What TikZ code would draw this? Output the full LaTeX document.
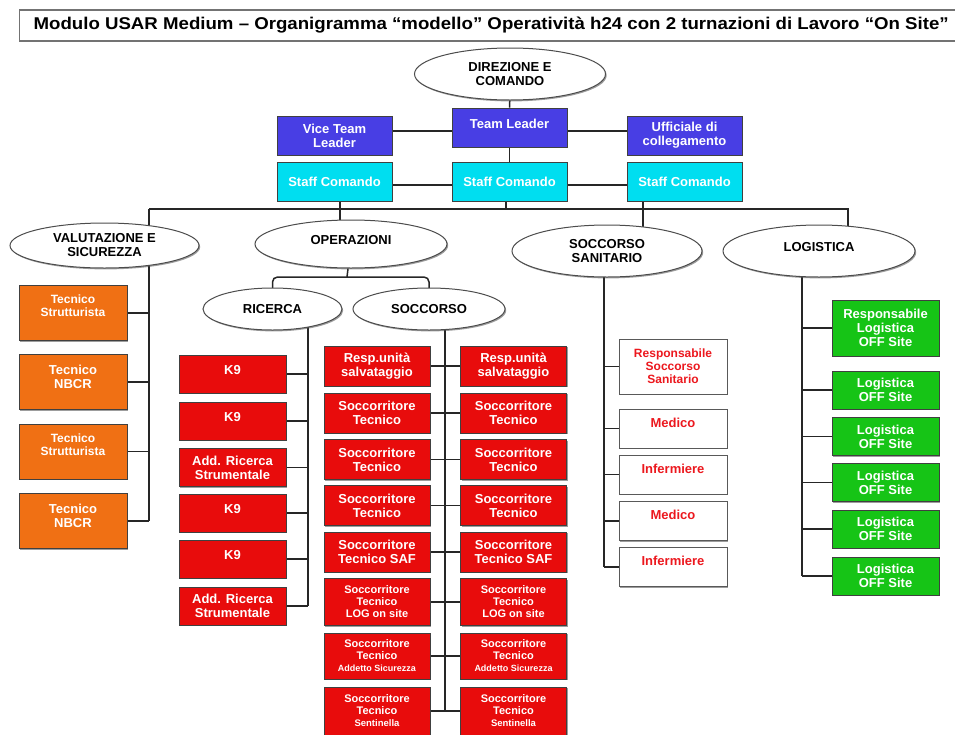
\documentclass[tikz,border=0pt]{standalone}
\usepackage{fontspec}
\usepackage{graphicx}
\setmainfont{Liberation Sans}
\usetikzlibrary{shapes.geometric,shadows,backgrounds}

\definecolor{cmdblue}{RGB}{72,62,228}
\definecolor{staffcyan}{RGB}{0,222,240}
\definecolor{valorange}{RGB}{240,112,20}
\definecolor{opsred}{RGB}{232,12,12}
\definecolor{loggreen}{RGB}{22,196,22}
\definecolor{txtred}{RGB}{236,24,30}

\begin{document}
\begin{tikzpicture}[x=1pt,y=-1pt,
  lbl/.style={font=\bfseries\fontsize{13}{14}\selectfont, align=center},
  mid/.style={font=\bfseries\fontsize{12}{13}\selectfont},
  sm/.style={font=\bfseries\fontsize{11}{12}\selectfont},
  shade/.style={drop shadow={shadow xshift=1.2pt,shadow yshift=-1.4pt,fill=black!70,opacity=0.55}},
  ell/.style={ellipse, draw=black!70, line width=1pt, fill=white, lbl, inner sep=0pt, shade},
  card/.style={rectangle, draw=black!75, line width=0.8pt, lbl, text=white,
               minimum width=107pt, minimum height=39pt, inner sep=1pt, shade},
  cmdcard/.style={card, fill=cmdblue, minimum width=115pt},
  staffcard/.style={card, fill=staffcyan, minimum width=115pt},
  valcard/.style={card, fill=valorange, minimum width=108pt, minimum height=55pt},
  opscard/.style={card, fill=opsred},
  sancard/.style={card, fill=white, text=txtred, draw=black!65, minimum width=108pt},
  logcard/.style={card, fill=loggreen},
  conn/.style={draw=black!85, line width=1.5pt}
]
\useasboundingbox (0,0) rectangle (955,734);

% ---------- title ----------
\node[draw=black!55, line width=1.2pt, fill=white, anchor=west, minimum height=31pt,
      inner xsep=14pt, inner ysep=0pt, shade] (title) at (19,25.5)
  {\resizebox{915pt}{12.5pt}{\bfseries Modulo USAR Medium – Organigramma “modello” Operatività h24 con 2 turnazioni di Lavoro “On Site”}};

% ---------- command ----------
\node[ell, minimum width=191pt, minimum height=52pt] (dir) at (510,74) {DIREZIONE E\\COMANDO};
\node[cmdcard] (tl)  at (509.5,127.5) {Team Leader\\[-6pt]};
\node[cmdcard] (vtl) at (334.5,135.5) {Vice Team\\Leader};
\node[cmdcard] (uff) at (684.5,135.5) {Ufficiale di\\collegamento};
\node[staffcard] (sc1) at (334.5,181.5) {Staff Comando};
\node[staffcard] (sc2) at (509.5,181.5) {Staff Comando};
\node[staffcard] (sc3) at (684.5,181.5) {Staff Comando};

% ---------- branches ----------
\node[ell, minimum width=189pt, minimum height=45pt] (val)  at (104.5,245.5) {VALUTAZIONE E\\SICUREZZA};
\node[ell, minimum width=192pt, minimum height=48pt] (ops)  at (351,244) {OPERAZIONI\\[-6pt]};
\node[ell, minimum width=190pt, minimum height=52pt] (san)  at (607,251) {SOCCORSO\\SANITARIO};
\node[ell, minimum width=192pt, minimum height=52pt] (log)  at (819,251) {LOGISTICA\\[-6pt]};
\node[ell, minimum width=139pt, minimum height=42pt] (ric)  at (272.5,309) {RICERCA};
\node[ell, minimum width=152pt, minimum height=42pt] (socc) at (429,309) {SOCCORSO};

% ---------- valutazione e sicurezza ----------
\node[valcard, mid] (or1) at (73,313)   {Tecnico\\Strutturista\\[1pt]};
\node[valcard]      (or2) at (73,382)   {Tecnico\\NBCR\\[-4pt]};
\node[valcard, mid] (or3) at (73,451.5) {Tecnico\\Strutturista\\[1pt]};
\node[valcard]      (or4) at (73,521)   {Tecnico\\NBCR\\[-4pt]};

% ---------- ricerca ----------
\node[opscard, minimum height=38pt] (r1) at (232.5,374)   {K9\\[-5pt]};
\node[opscard, minimum height=38pt] (r2) at (232.5,421)   {K9\\[-5pt]};
\node[opscard, minimum height=38pt] (r3) at (232.5,467.5) {Add. Ricerca\\Strumentale};
\node[opscard, minimum height=38pt] (r4) at (232.5,513)   {K9\\[-5pt]};
\node[opscard, minimum height=38pt] (r5) at (232.5,559)   {K9\\[-5pt]};
\node[opscard, minimum height=38pt] (r6) at (232.5,606)   {Add. Ricerca\\Strumentale};

% ---------- soccorso (two shifts) ----------
\foreach \side/\xc in {sl/377, sr/513.5}{
  \node[opscard, minimum width=106pt, minimum height=40pt] (\side1) at (\xc,366)   {Resp.unità\\salvataggio};
  \node[opscard, minimum width=106pt, minimum height=40pt] (\side2) at (\xc,413)   {Soccorritore\\Tecnico};
  \node[opscard, minimum width=106pt, minimum height=40pt] (\side3) at (\xc,459.5) {Soccorritore\\Tecnico};
  \node[opscard, minimum width=106pt, minimum height=40pt] (\side4) at (\xc,505.5) {Soccorritore\\Tecnico};
  \node[opscard, minimum width=106pt, minimum height=40pt] (\side5) at (\xc,552)   {Soccorritore\\Tecnico SAF};
  \node[opscard, sm, minimum width=106pt, minimum height=47pt] (\side6) at (\xc,602) {Soccorritore\\Tecnico\\LOG on site};
  \node[opscard, sm, minimum width=106pt, minimum height=46pt] (\side7) at (\xc,656)
    {Soccorritore\\Tecnico\\{\fontsize{9}{10}\selectfont Addetto Sicurezza}};
  \node[opscard, sm, minimum width=106pt, minimum height=48pt] (\side8) at (\xc,711)
    {Soccorritore\\Tecnico\\{\fontsize{9.5}{10}\selectfont Sentinella}};
}

% ---------- soccorso sanitario ----------
\node[sancard, mid, minimum height=55pt] (w1) at (673,366.5) {Responsabile\\Soccorso\\Sanitario};
\node[sancard] (w2) at (673,428.5) {Medico\\[-2pt]};
\node[sancard] (w3) at (673,474.5) {Infermiere\\[-2pt]};
\node[sancard] (w4) at (673,521)   {Medico\\[-2pt]};
\node[sancard] (w5) at (673,567)   {Infermiere\\[-2pt]};

% ---------- logistica ----------
\node[logcard, minimum height=56pt] (g1) at (885.5,328) {Responsabile\\Logistica\\OFF Site};
\node[logcard, minimum height=38pt] (g2) at (885.5,390)   {Logistica\\OFF Site};
\node[logcard, minimum height=38pt] (g3) at (885.5,436.5) {Logistica\\OFF Site};
\node[logcard, minimum height=38pt] (g4) at (885.5,482.5) {Logistica\\OFF Site};
\node[logcard, minimum height=38pt] (g5) at (885.5,529)   {Logistica\\OFF Site};
\node[logcard, minimum height=38pt] (g6) at (885.5,576)   {Logistica\\OFF Site};

% ---------- junction points of the trunk lines ----------
\coordinate (busL) at (149,209);
\coordinate (busR) at (848,209);
\coordinate (j1)   at (340,209);
\coordinate (j2)   at (506,209);
\coordinate (j3)   at (643,209);
\coordinate (opsBus) at (347,277);
\coordinate (ricT) at (308,309);
\coordinate (socT) at (445,309);
\coordinate (sanT) at (604,251);
\coordinate (logT) at (802,251);

% ---------- connectors ----------
\begin{scope}[on background layer]
  \draw[conn] (dir) -- (tl);
  \draw[conn] ([yshift=4.5pt]vtl.center) -- ([yshift=4.5pt]uff.center);
  \draw[conn] (tl) -- (sc2);
  \draw[conn] ([yshift=-3.5pt]sc1.center) -- ([yshift=-3.5pt]sc3.center);
  \draw[conn] (j1 |- sc1.center) -- (j1 |- ops.center);
  \draw[conn] (j2 |- sc2.center) -- (j2);
  \draw[conn] (j3 |- sc3.center) -- (j3 |- san.center);
  \draw[conn] (busL) -- (busR) -- (busR |- log.center);
  % valutazione e sicurezza
  \draw[conn] (busL) -- (busL |- or4.center);
  \foreach \i in {1,...,4} \draw[conn] (or\i) -- (or\i -| busL);
  % operazioni
  \draw[conn] (ops) -- (opsBus);
  \draw[conn, rounded corners=5pt] (ric.center) -- (ric.center |- opsBus) -- (socc.center |- opsBus) -- (socc.center);
  \draw[conn] (ricT) -- (ricT |- r6.center);
  \foreach \i in {1,...,6} \draw[conn] (r\i) -- (r\i -| ricT);
  \draw[conn] (socT) -- (socT |- sl8.center);
  \foreach \i in {1,...,8} \draw[conn] (sl\i) -- (sr\i);
  % soccorso sanitario
  \draw[conn] (sanT) -- (sanT |- w5.center);
  \foreach \i in {1,...,5} \draw[conn] (w\i) -- (w\i -| sanT);
  % logistica
  \draw[conn] (logT) -- (logT |- g6.center);
  \foreach \i in {1,...,6} \draw[conn] (g\i) -- (g\i -| logT);
\end{scope}
\end{tikzpicture}
\end{document}
